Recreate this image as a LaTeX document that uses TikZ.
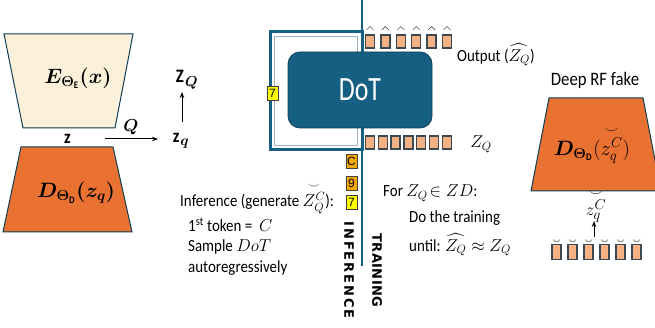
\documentclass[tikz,border=0pt]{standalone}
\usepackage{amsmath}
\usepackage{bm}
\usepackage{fontspec}
\setmainfont{Carlito}[FakeStretch=0.88]
\newfontfamily\dotfont{Carlito}[FakeStretch=0.76]
\newfontfamily\capsfont{Liberation Sans}
\newfontfamily\heavyfont{DejaVu Sans}
\usetikzlibrary{arrows.meta}

\definecolor{dotblue}{HTML}{156082}
\definecolor{dotedge}{HTML}{0E3F57}
\definecolor{encfill}{HTML}{FBF0DA}
\definecolor{decfill}{HTML}{E97132}
\definecolor{tokfill}{HTML}{F4B183}
\definecolor{tokedge}{HTML}{3B4A52}
\definecolor{loopgray}{HTML}{9DB2C0}
\definecolor{ctok}{HTML}{F5A800}
\definecolor{ytok}{HTML}{FFFF00}

% spaced capitals for the two phase labels
\newcommand{\infk}{\kern1.9pt}
\newcommand{\trnk}{\kern0.4pt}

\begin{document}
\begin{tikzpicture}[x=1pt,y=-1pt,
  shapeedge/.style={draw=dotedge, line width=1pt},
  token/.style={draw=tokedge, line width=1.4pt, fill=tokfill,
    minimum width=9pt, minimum height=13pt, inner sep=0pt},
  rtoken/.style={token, minimum height=15pt},
  digit/.style={draw=black!75, line width=0.8pt, minimum width=11pt,
    minimum height=14pt, inner sep=0pt, font=\capsfont\fontsize{12}{12}\selectfont},
  caret/.style={draw=black!65, line width=0.6pt},
  txt/.style={font=\fontsize{17}{20}\selectfont, inner sep=0pt, anchor=west},
  biglbl/.style={font=\fontsize{20}{23}\selectfont, inner sep=0pt},
  midlbl/.style={font=\fontsize{19}{22}\selectfont, inner sep=0pt},
  phase/.style={font=\heavyfont\bfseries\fontsize{13}{14}\selectfont, rotate=-90, inner sep=0pt},
  arr/.style={-{Stealth[length=6pt,width=4.5pt]}, line width=1pt},
  dotbox/.style={draw=dotedge, line width=0.8pt, fill=dotblue, rounded corners=12pt,
    minimum width=144pt, minimum height=76pt, text=white,
    font=\dotfont\fontsize{34}{34}\selectfont}
]
\useasboundingbox (0,0) rectangle (655,328);

% ---- autoencoder ----
\draw[shapeedge, fill=encfill] (4,34) -- (133,34) -- (115,128) -- (23,128) -- cycle;
\node[biglbl] (enc) at (78,78) {$\bm{E_{\Theta_{\mathrm{E}}}(x)}$};
\draw[shapeedge, fill=decfill] (21,147) -- (113,147) -- (132,232) -- (3,232) -- cycle;
\node[biglbl] (dec) at (76,193) {$\bm{D_{\Theta_{\mathrm{D}}}(z_q)}$};

\node[midlbl] (zlat) at (68,139) {$\mathbf{z}$};
\node[midlbl] (qlbl) at (131,127) {$\bm{Q}$};
\node[midlbl] (zq) at (181,141) {$\mathbf{z}_{\bm q}$};
\node[midlbl] (ZQ) at (187,80) {$\mathbf{Z}_{\bm Q}$};
\coordinate (qstart) at (105,139);
\coordinate (qend) at (158,139);
\coordinate (upfoot) at (182,122);
\coordinate (uphead) at (182,92);
\draw[arr] (qstart) -- (qend);
\draw[arr] (upfoot) -- (uphead);

% ---- DoT with its feedback loop ----
\draw[dotblue, line width=3pt] (270,32) rectangle (362,150);
\draw[loopgray, line width=1.3pt] (274.5,36.5) rectangle (357.5,145.5);
\coordinate (railtop) at (362,0);
\coordinate (railend) at (362,266);
\draw[dotblue, line width=2.5pt] (railtop) -- (railend);
\node[dotbox] (dot) at (360,90) {DoT};
\node[digit, fill=ytok] (loop7) at (272.5,93) {7};

% output tokens
\foreach \i in {0,...,5} {
  \pgfmathsetmacro\cx{370+15.4*\i}
  \node[token] (out\i) at (\cx,41.5) {};
  \draw[caret] (\cx-3.5,30) -- (\cx,26.5) -- (\cx+3.5,30);
}
\node[txt] (outlbl) at (457,55) {Output ($\widehat{Z_Q}$)};

% input tokens
\foreach \i in {0,...,6} {
  \pgfmathsetmacro\cx{370+12.8*\i}
  \node[token] (in\i) at (\cx,142.5) {};
}
\node[midlbl, font=\fontsize{18}{21}\selectfont] (inlbl) at (481,144) {$Z_Q$};

% prompt tokens
\node[digit, fill=ctok] (pc) at (351.5,161.5) {C};
\node[digit, fill=ctok] (p9) at (351.5,183) {9};
\node[digit, fill=ytok] (p7) at (351.5,202.5) {7};

\node[phase] (inf) at (349,270) {I\infk N\infk F\infk E\infk R\infk E\infk N\infk C\infk E};
\node[phase] (trn) at (377,270.5) {T\trnk R\trnk A\trnk I\trnk N\trnk I\trnk N\trnk G};

% inference notes
\node[txt] (i1) at (180,198) {Inference (generate $\overset{\smile}{Z_Q^C}$):};
\node[txt] (i2) at (188,225) {1\textsuperscript{st} token =\ \ $C$};
\node[txt] (i3) at (188,247) {Sample $DoT$};
\node[txt] (i4) at (188,268) {autoregressively};

% training notes
\node[txt] (t1) at (383,193) {For $Z_Q\!\in ZD$:};
\node[txt] (t2) at (409,218) {Do the training};
\node[txt] (t3) at (409,245) {until: $\widehat{Z_Q}\approx Z_Q$};

% ---- generator for fake RF ----
\node[font=\fontsize{19}{22}\selectfont, inner sep=0pt] (fakelbl) at (595,80) {Deep RF fake};
\draw[shapeedge, fill=decfill] (549,98) -- (643,98) -- (661,191) -- (531,191) -- cycle;
\node[biglbl] (gen) at (592,145) {$\bm{D_{\Theta_{\mathrm{D}}}}(\overset{\smile}{z_q^C})$};
\node[midlbl] (zc) at (596,206) {$\overset{\smile}{z_q^C}$};
\coordinate (genfoot) at (594,237);
\coordinate (genhead) at (594,221);
\draw[arr] (genfoot) -- (genhead);
\foreach \i in {0,...,5} {
  \pgfmathsetmacro\cx{556.5+16*\i}
  \node[rtoken] (g\i) at (\cx,252) {};
  \draw[caret] (\cx-3.5,239.5) .. controls (\cx-1.5,242.5) and (\cx+1.5,242.5) .. (\cx+3.5,239.5);
}
\end{tikzpicture}
\end{document}
